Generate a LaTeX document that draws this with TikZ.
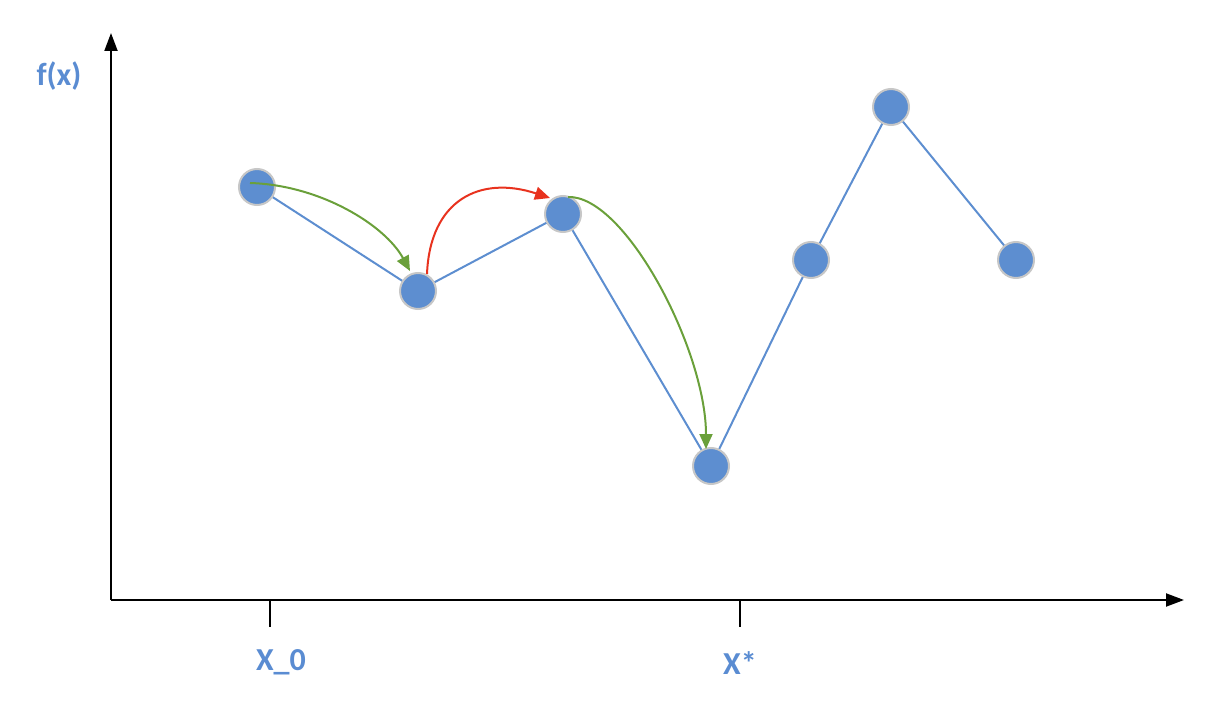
\documentclass[tikz,border=0pt]{standalone}
\usepackage{fontspec}
\setmainfont{Carlito}
\usetikzlibrary{arrows.meta,backgrounds}
\definecolor{dotblue}{RGB}{93,142,208}
\definecolor{labblue}{RGB}{90,140,210}
\definecolor{arrgreen}{RGB}{106,160,58}
\definecolor{arrred}{RGB}{232,50,30}
\begin{document}
\begin{tikzpicture}[x=1pt,y=-1pt,
  dot/.style={circle,fill=dotblue,draw=black!22,line width=2pt,minimum size=36pt,inner sep=0pt},
  axis/.style={line width=2pt,-{Triangle[length=18pt,width=13pt]}},
  tick/.style={line width=2pt},
  curve/.style={line width=2pt,draw=dotblue},
  jump/.style={line width=2pt,-{Triangle[length=15pt,width=13pt]}},
  lab/.style={text=labblue,font=\bfseries\fontsize{32}{34}\selectfont,inner sep=0pt}]
\useasboundingbox (0,0) rectangle (1216,714);
% axes
\coordinate (O) at (111,600);
\coordinate (Ytip) at (111,33);
\coordinate (Xtip) at (1184,600);
\draw[axis] (O) -- (Ytip);
\draw[axis] (O) -- (Xtip);
\coordinate (t0) at (270,600);
\coordinate (t0e) at (270,627);
\coordinate (t1) at (740,600);
\coordinate (t1e) at (740,627);
\draw[tick] (t0) -- (t0e);
\draw[tick] (t1) -- (t1e);
\node[lab] (fx) at (59,76) {f(x)};
\node[lab] (x0) at (281,662) {X\_0};
\node[lab] (xs) at (740,663) {X*};
% points
\node[dot] (A) at (257,187) {};
\node[dot] (B) at (418,291) {};
\node[dot] (C) at (563,214) {};
\node[dot] (D) at (711,466) {};
\node[dot] (E) at (811,260) {};
\node[dot] (F) at (891,107) {};
\node[dot] (G) at (1016,260) {};
\begin{scope}[on background layer]
\draw[curve] (A.center) -- (B.center) -- (C.center) -- (D.center) -- (E.center) -- (F.center) -- (G.center);
\end{scope}
% jumps
\coordinate (a1) at (250,183);
\coordinate (b1) at (410,271);
\coordinate (b2) at (427,274);
\coordinate (c1) at (550,198);
\coordinate (c2) at (568,197);
\coordinate (d1) at (706,449);
\draw[jump,arrgreen] (a1) .. controls (320,185) and (385,225) .. (b1);
\draw[jump,arrred] (b2) .. controls (430,200) and (480,175) .. (c1);
\draw[jump,arrgreen] (c2) .. controls (625,195) and (706,350) .. (d1);
\end{tikzpicture}
\end{document}
